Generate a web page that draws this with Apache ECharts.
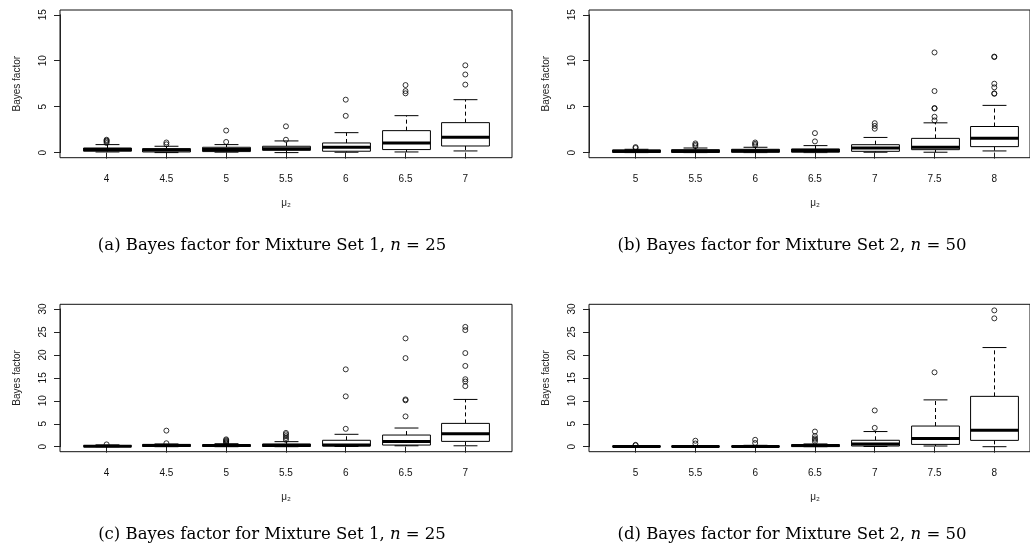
<!DOCTYPE html>
<html>
<head>
<meta charset="utf-8">
<script src="https://cdn.jsdelivr.net/npm/echarts@6/dist/echarts.min.js"></script>
<style>html,body{margin:0;padding:0;background:#fff}#c{width:1030px;height:552px}</style>
</head>
<body>
<div id="c"></div>
<script>
// ---- data ----
const catsSet1 = ['4', '4.5', '5', '5.5', '6', '6.5', '7'];
const catsSet2 = ['5', '5.5', '6', '6.5', '7', '7.5', '8'];
const yTicksTop = [0, 5, 10, 15];
const yTicksBottom = [0, 5, 10, 15, 20, 25, 30];

// box stats: [lower whisker, Q1, median, Q3, upper whisker]
const boxA = [
  [0.07, 0.15, 0.33, 0.50, 0.87],
  [0.00, 0.07, 0.28, 0.43, 0.69],
  [0.05, 0.11, 0.35, 0.58, 0.87],
  [0.00, 0.25, 0.43, 0.69, 1.27],
  [0.04, 0.15, 0.58, 1.05, 2.17],
  [0.07, 0.33, 1.05, 2.39, 4.02],
  [0.18, 0.72, 1.67, 3.26, 5.76]
];
const outA = [
  [1.05, 1.2, 1.3, 1.4],
  [0.9, 1.1],
  [1.16, 2.4],
  [1.4, 2.86],
  [4.0, 5.76],
  [6.45, 6.7, 7.35],
  [7.4, 8.5, 9.5]
];
const boxB = [
  [0.00, 0.02, 0.14, 0.29, 0.36],
  [0.00, 0.02, 0.15, 0.32, 0.50],
  [0.00, 0.03, 0.20, 0.36, 0.58],
  [0.00, 0.04, 0.22, 0.40, 0.76],
  [0.04, 0.14, 0.50, 0.86, 1.65],
  [0.04, 0.32, 0.58, 1.55, 3.24],
  [0.18, 0.65, 1.55, 2.84, 5.14]
];
const outB = [
  [0.5, 0.6],
  [0.7, 0.85, 1.0],
  [0.8, 0.95, 1.1],
  [1.22, 2.12],
  [2.6, 2.9, 3.2],
  [3.5, 3.9, 4.8, 4.85, 6.7, 10.9],
  [6.4, 6.45, 7.1, 7.5, 10.4, 10.45]
];
const boxC = [
  [0.00, 0.02, 0.10, 0.25, 0.40],
  [0.00, 0.05, 0.25, 0.50, 0.60],
  [0.00, 0.05, 0.25, 0.45, 0.65],
  [0.00, 0.05, 0.25, 0.60, 1.10],
  [0.05, 0.15, 0.36, 1.40, 2.70],
  [0.20, 0.36, 1.16, 2.54, 4.07],
  [0.20, 1.16, 2.83, 5.08, 10.3]
];
const outC = [
  [0.5],
  [0.75, 3.5],
  [0.8, 1.0, 1.2, 1.4, 1.6],
  [1.5, 1.9, 2.3, 2.7, 3.0],
  [3.9, 10.97, 16.85],
  [6.6, 10.1, 10.3, 19.3, 23.6],
  [13.2, 14.2, 14.7, 17.6, 20.4, 25.4, 26.1]
];
const boxD = [
  [0.00, 0.01, 0.05, 0.15, 0.20],
  [0.00, 0.01, 0.04, 0.12, 0.25],
  [0.00, 0.01, 0.05, 0.15, 0.30],
  [0.00, 0.02, 0.25, 0.45, 0.60],
  [0.05, 0.15, 0.58, 1.40, 3.30],
  [0.15, 0.50, 1.80, 4.50, 10.2],
  [0.00, 1.38, 3.56, 10.97, 21.6]
];
const outD = [
  [0.3, 0.4],
  [0.7, 1.3],
  [0.8, 1.5],
  [1.1, 1.5, 1.8, 2.3, 3.3],
  [4.1, 7.9],
  [16.2],
  [27.96, 29.7]
];
const captions = [
  '(a) Bayes factor for Mixture Set 1, {i|n} = 25',
  '(b) Bayes factor for Mixture Set 2, {i|n} = 50',
  '(c) Bayes factor for Mixture Set 1, {i|n} = 25',
  '(d) Bayes factor for Mixture Set 2, {i|n} = 50'
];

// ---- layout ----
const panels = [
  { cats: catsSet1, box: boxA, out: outA, ticks: yTicksTop,
    frame: { left: 60, right: 518, top: 10, bottom: 394.3 },
    data: { left: 76.7, right: 534.8, top: 14.8, bottom: 399.4 }, cap: [272, 246] },
  { cats: catsSet2, box: boxB, out: outB, ticks: yTicksTop,
    frame: { left: 589, right: -11, top: 10, bottom: 394.3 },
    data: { left: 605.7, right: 5.8, top: 14.8, bottom: 399.4 }, cap: [792, 246] },
  { cats: catsSet1, box: boxC, out: outC, ticks: yTicksBottom,
    frame: { left: 60, right: 518, top: 304.3, bottom: 100.3 },
    data: { left: 76.7, right: 534.8, top: 309, bottom: 105.3 }, cap: [272, 535] },
  { cats: catsSet2, box: boxD, out: outD, ticks: yTicksBottom,
    frame: { left: 589, right: -11, top: 304.3, bottom: 100.3 },
    data: { left: 605.7, right: 5.8, top: 309, bottom: 105.3 }, cap: [792, 535] }
];

const SANS = '"Liberation Sans", Arial, "DejaVu Sans", sans-serif';
const SERIF = '"DejaVu Serif", "Liberation Serif", serif';

function renderBox(params, api) {
  const i = api.value(0);
  const lo = api.coord([i, api.value(1)]);
  const q1 = api.coord([i, api.value(2)]);
  const md = api.coord([i, api.value(3)]);
  const q3 = api.coord([i, api.value(4)]);
  const hi = api.coord([i, api.value(5)]);
  const band = api.size([1, 0])[0];
  const hw = band * 0.4, sw = band * 0.2;
  const x = Math.round(lo[0]) + 0.5;
  const thin = { stroke: '#000', lineWidth: 1, fill: null };
  const dash = { stroke: '#000', lineWidth: 1, lineDash: [4, 3], fill: null };
  return {
    type: 'group',
    children: [
      { type: 'line', shape: { x1: x, y1: q1[1], x2: x, y2: lo[1] }, style: dash },
      { type: 'line', shape: { x1: x, y1: q3[1], x2: x, y2: hi[1] }, style: dash },
      { type: 'line', shape: { x1: x - sw, y1: lo[1], x2: x + sw, y2: lo[1] }, style: thin },
      { type: 'line', shape: { x1: x - sw, y1: hi[1], x2: x + sw, y2: hi[1] }, style: thin },
      { type: 'rect', shape: { x: x - hw, y: q3[1], width: 2 * hw, height: q1[1] - q3[1] },
        style: { fill: '#fff', stroke: '#000', lineWidth: 1 } },
      { type: 'line', shape: { x1: x - hw, y1: md[1], x2: x + hw, y2: md[1] },
        style: { stroke: '#000', lineWidth: 3 } }
    ]
  };
}

const grid = [], xAxis = [], yAxis = [], series = [], graphic = [];
panels.forEach((p, k) => {
  const fi = grid.length;
  grid.push(Object.assign({ show: true, borderColor: '#111', borderWidth: 1, backgroundColor: 'transparent' }, p.frame));
  xAxis.push({ gridIndex: fi, type: 'value', show: false, min: 0, max: 1 });
  yAxis.push({ gridIndex: fi, type: 'value', show: false, min: 0, max: 1 });
  const di = grid.length;
  grid.push(Object.assign({ show: false }, p.data));
  const ymax = p.ticks[p.ticks.length - 1];
  xAxis.push({
    gridIndex: di, type: 'category', data: p.cats, boundaryGap: true,
    offset: k < 2 ? 5.1 : 5,
    axisLine: { show: false },
    axisTick: { show: true, alignWithLabel: true, length: 6, lineStyle: { color: '#222', width: 1 } },
    axisLabel: { margin: 17, fontSize: 10, color: '#111', fontFamily: SANS, interval: 0 },
    splitLine: { show: false },
    name: 'μ₂', nameLocation: 'middle', nameGap: 41,
    nameTextStyle: { fontSize: 10, color: '#222', fontFamily: SANS }
  });
  yAxis.push({
    gridIndex: di, type: 'value', min: 0, max: ymax, interval: 5,
    offset: 16.7,
    axisLine: { show: true, lineStyle: { color: '#222', width: 1 } },
    axisTick: { show: true, length: 6, lineStyle: { color: '#222', width: 1 } },
    axisLabel: { rotate: 90, margin: 12, fontSize: 10, color: '#111', fontFamily: SANS },
    splitLine: { show: false },
    name: 'Bayes factor', nameLocation: 'middle', nameGap: 38,
    nameTextStyle: { fontSize: 10, color: '#222', fontFamily: SANS }
  });
  const ai = xAxis.length - 1;
  series.push({
    type: 'custom', xAxisIndex: ai, yAxisIndex: ai,
    renderItem: renderBox,
    encode: { x: 0, y: [1, 2, 3, 4, 5] },
    data: p.box.map((b, i) => [i].concat(b)),
    silent: true, animation: false
  });
  const pts = [];
  p.out.forEach((arr, i) => arr.forEach(v => pts.push([i, v])));
  series.push({
    type: 'scatter', xAxisIndex: ai, yAxisIndex: ai,
    symbol: 'circle', symbolSize: 5,
    itemStyle: { color: 'rgba(0,0,0,0)', borderColor: '#000', borderWidth: 1 },
    data: pts, silent: true, animation: false, z: 3
  });
  graphic.push({
    type: 'text', x: p.cap[0], y: p.cap[1],
    style: {
      text: captions[k], fontSize: 16.5, fontFamily: SERIF,
      fill: '#000', align: 'center', verticalAlign: 'middle',
      rich: { i: { fontStyle: 'italic', fontSize: 16.5, fontFamily: SERIF } }
    }
  });
});

const chart = echarts.init(document.getElementById('c'), null, { renderer: 'canvas' });
chart.setOption({ animation: false, grid, xAxis, yAxis, series, graphic });
</script>
</body>
</html>
